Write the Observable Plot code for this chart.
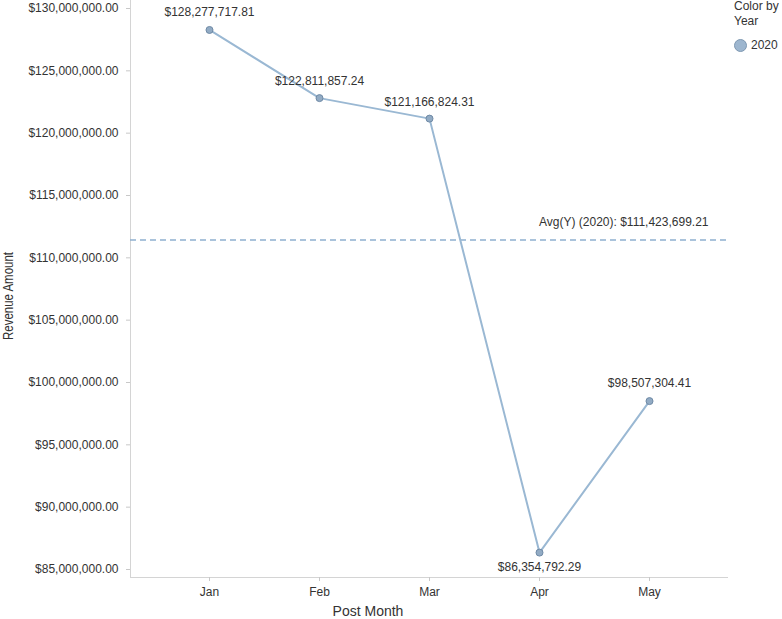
<!DOCTYPE html>
<html><head><meta charset="utf-8">
<script src="https://cdn.jsdelivr.net/npm/d3@7"></script>
<script src="https://cdn.jsdelivr.net/npm/@observablehq/plot@0.6"></script>
<style>
body{margin:0;background:#fff;font-family:"Liberation Sans",Arial,sans-serif;}
#wrap{position:relative;width:782px;height:619px;}
#legend{position:absolute;left:734px;top:-1px;font-size:12px;color:#333;line-height:15px;}
#legend .item{margin-top:9px;display:flex;align-items:center;}
#legend .sw{display:inline-block;width:11px;height:11px;border-radius:50%;background:#9db6cf;border:1px solid #7e98b2;margin-right:4px;}
</style></head><body>
<div id="wrap"><div id="chart"></div>
<div id="legend">Color by<br>Year<div class="item"><span class="sw"></span>2020</div></div></div>
<script>
const months = ["Jan","Feb","Mar","Apr","May"];
const revenue = [128277717.81, 122811857.24, 121166824.31, 86354792.29, 98507304.41];
const labelDy = [-18, -17, -16, 15, -18];
const average = 111423699.21;
const yTicks = [85e6,90e6,95e6,100e6,105e6,110e6,115e6,120e6,125e6,130e6];

const data = months.map((m,i)=>({month:m, value:revenue[i], dy:labelDy[i]}));
const money = v => "$" + d3.format(",.2f")(v);
const lineColor = "#9ab8d3";
const txt = "#333";

const plot = Plot.plot({
  width: 782, height: 619,
  marginLeft: 130, marginRight: 55, marginTop: 0, marginBottom: 42,
  style: {fontFamily: '"Liberation Sans", Arial, sans-serif', fontSize: "12px", color: txt, background: "#fff"},
  x: {type: "point", domain: months, padding: 0.71, label: null},
  y: {domain: [84.358e6, 130.642e6], label: null},
  marks: [
    Plot.frame({anchor: "left", stroke: "#d4d4d4"}),
    Plot.frame({anchor: "bottom", stroke: "#d4d4d4"}),
    Plot.axisY({ticks: yTicks, tickFormat: money, tickSize: 4, tickPadding: 8, stroke: "#c8c8c8", fill: txt, fontSize: 12, label: null}),
    Plot.axisX({tickSize: 4, tickPadding: 6, stroke: "#c8c8c8", fill: txt, fontSize: 12, label: null}),
    Plot.ruleY([average], {stroke: "#8fb0d0", strokeWidth: 1.5, strokeDasharray: "6,4"}),
    Plot.text([average], {y: d=>d, frameAnchor: "right", text: d=>"Avg(Y) (2020): " + money(d), dy: -18, dx: -19, textAnchor: "end", fill: txt, fontSize: 12}),
    Plot.line(data, {x: "month", y: "value", stroke: lineColor, strokeWidth: 2}),
    Plot.dot(data, {x: "month", y: "value", r: 3.5, fill: "#92abc4", stroke: "#6f8aa6", strokeWidth: 1}),
    ...data.map(d => Plot.text([d], {x: "month", y: "value", text: d=>money(d.value), dy: d.dy, fill: txt, fontSize: 12})),
    Plot.text(["Revenue Amount"], {frameAnchor: "left", textAnchor: "middle", lineAnchor: "middle", dx: -122, dy: 7, rotate: -90, fill: txt, fontSize: 14, text: d=>d, className: "ytitle"}),
    Plot.text(["Post Month"], {frameAnchor: "bottom", textAnchor: "middle", lineAnchor: "bottom", dx: -61, dy: 38, fill: txt, fontSize: 14, text: d=>d})
  ]
});
d3.select(plot).selectAll(".ytitle text").attr("textLength", 88).attr("lengthAdjust", "spacingAndGlyphs");
document.getElementById("chart").appendChild(plot);
</script></body></html>
